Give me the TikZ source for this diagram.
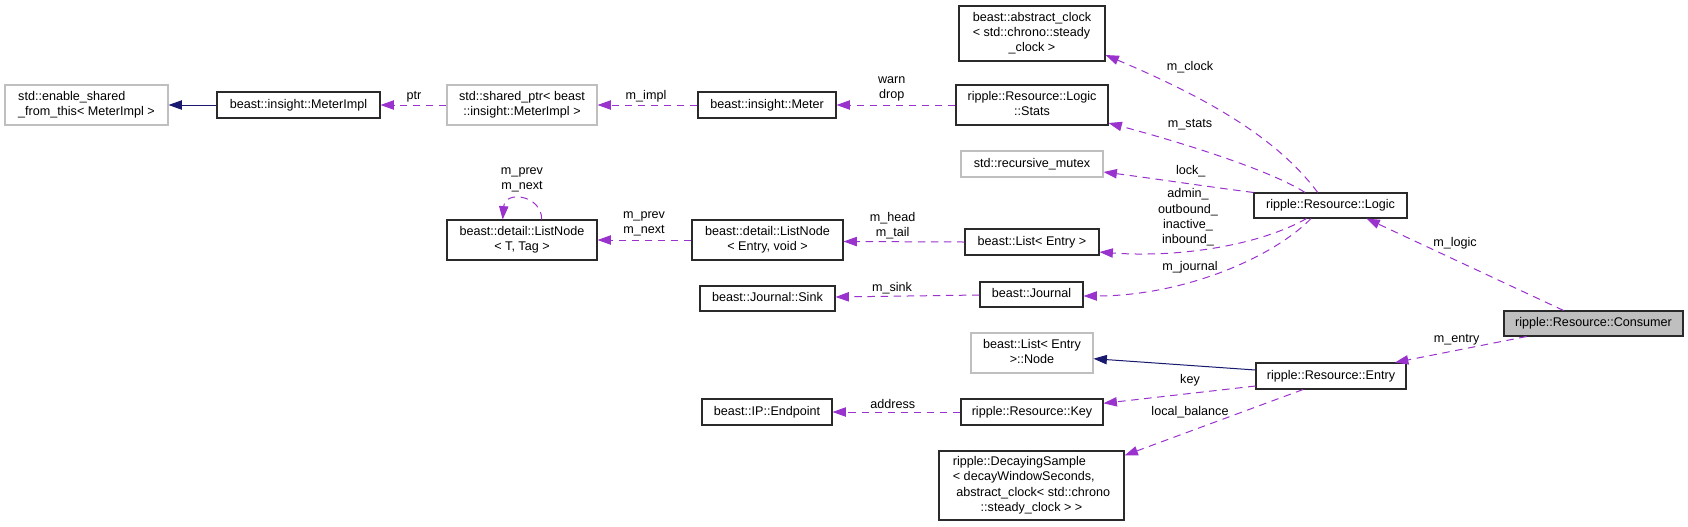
\documentclass[tikz,border=0pt]{standalone}
\usepackage{fontspec}
\setmainfont{Liberation Sans}
\usetikzlibrary{arrows.meta,calc}
\definecolor{edgepurple}{HTML}{9A32CD}
\definecolor{inhnavy}{HTML}{191970}
\definecolor{extgray}{HTML}{BFBFBF}
\definecolor{boxline}{HTML}{2A2A2A}
\newcommand\myone[1]{\begin{tabular}{@{}c@{}}#1\end{tabular}}
\newcommand\mytwo[2]{\begin{tabular}{@{}l@{}}#1\\\multicolumn{1}{@{}c@{}}{#2}\end{tabular}}
\newcommand\mythree[3]{\begin{tabular}{@{}l@{}}#1\\#2\\\multicolumn{1}{@{}c@{}}{#3}\end{tabular}}
\newcommand\myfour[4]{\begin{tabular}{@{}l@{}}#1\\#2\\#3\\\multicolumn{1}{@{}c@{}}{#4}\end{tabular}}
\tikzset{
  every node/.style={font=\fontsize{9.45}{11.5}\selectfont},
  sz/.style 2 args={minimum width={#1*0.75pt},minimum height={#2*0.75pt}},
  cls/.style={draw=boxline,line width=0.8pt,rectangle,inner sep=0pt},
  ext/.style={draw=extgray,line width=0.8pt,rectangle,inner sep=0pt},
  cur/.style={cls,fill=extgray},
  member/.style={draw=edgepurple,line width=0.75pt,dash pattern=on 5.6pt off 4.2pt,-{Triangle[length=10pt,width=7pt]}},
  inherit/.style={draw=inhnavy,line width=0.75pt,-{Triangle[length=10pt,width=7pt]}},
  lbl/.style={inner sep=0pt,align=center}
}
\begin{document}
\begin{tikzpicture}[x=0.75pt,y=-0.75pt]
\fill[white] (0,0) rectangle (1688,526);
\useasboundingbox (0,0) rectangle (1688,526);

% nodes
\node[ext,sz={163}{40}] (enable) at (86.5,105) {\mytwo{std::enable\_shared}{\_from\_this< MeterImpl >}};
\node[cls,sz={163}{26}] (meterimpl) at (298.5,105) {\myone{beast::insight::MeterImpl}};
\node[ext,sz={150}{40}] (sharedptr) at (522,105) {\mytwo{std::shared\_ptr< beast}{::insight::MeterImpl >}};
\node[cls,sz={138}{26}] (meter) at (767,105) {\myone{beast::insight::Meter}};
\node[cls,sz={146}{55}] (clock) at (1032,33.5) {\mythree{beast::abstract\_clock}{< std::chrono::steady}{\_clock >}};
\node[cls,sz={152}{40}] (stats) at (1032,105) {\mytwo{ripple::Resource::Logic}{::Stats}};
\node[ext,sz={142}{26}] (mutex) at (1032,164) {\myone{std::recursive\_mutex}};
\node[cls,sz={153}{25}] (logic) at (1330.5,205.5) {\myone{ripple::Resource::Logic}};
\node[cls,sz={150}{40}] (listnodeT) at (522,240) {\mytwo{beast::detail::ListNode}{< T, Tag >}};
\node[cls,sz={151}{40}] (listnodeE) at (767.5,240) {\mytwo{beast::detail::ListNode}{< Entry, void >}};
\node[cls,sz={134}{26}] (list) at (1032,242) {\myone{beast::List< Entry >}};
\node[cls,sz={135}{25}] (sink) at (767.5,298.5) {\myone{beast::Journal::Sink}};
\node[cls,sz={103}{25}] (journal) at (1031.5,294.5) {\myone{beast::Journal}};
\node[cur,sz={179}{25}] (consumer) at (1593.5,323.5) {\myone{ripple::Resource::Consumer}};
\node[ext,sz={122}{40}] (listnode) at (1032,353) {\mytwo{beast::List< Entry}{>::Node}};
\node[cls,sz={150}{26}] (entry) at (1331,376) {\myone{ripple::Resource::Entry}};
\node[cls,sz={130}{26}] (endpoint) at (767,412) {\myone{beast::IP::Endpoint}};
\node[cls,sz={142}{26}] (key) at (1032,412) {\myone{ripple::Resource::Key}};
\node[cls,sz={185}{69}] (decay) at (1031.5,485.5) {\myfour{ripple::DecayingSample}{< decayWindowSeconds,}{\ abstract\_clock< std::chrono}{::steady\_clock > >}};

% inheritance
\draw[inherit] (meterimpl.west) -- (enable.east);
\draw[inherit] ($(entry.west)+(0,-6)$) -- ($(listnode.east)+(0,5.7)$);

% members
\draw[member] (sharedptr.west) -- (meterimpl.east);
\draw[member] (meter.west) -- (sharedptr.east);
\draw[member] (stats.west) -- (meter.east);
\draw[member] ($(logic.north)+(-12.8,0)$) .. controls (1275,135) and (1200,95) .. ($(clock.east)+(0,21.5)$);
\draw[member] ($(logic.north)+(-25.5,0)$) .. controls (1270,170) and (1180,142) .. ($(stats.east)+(0,18)$);
\draw[member] (logic.north west) .. controls (1210,187) and (1150,178) .. ($(mutex.east)+(0,8)$);
\draw[member] ($(logic.south)+(-24,0)$) .. controls (1260,245) and (1180,258) .. ($(list.east)+(0,10)$);
\draw[member] ($(logic.south)+(-19.5,0)$) .. controls (1270,260) and (1180,296) .. ($(journal.east)+(0,1.5)$);
\draw[member] ($(consumer.north)+(-30,0)$) -- ($(logic.south)+(36,0)$);
\draw[member] ($(listnodeT.north)+(19.7,0)$) .. controls (541.7,195) and (505,190) .. ($(listnodeT.north)+(-19.3,0)$);
\draw[member] (listnodeE.west) -- (listnodeT.east);
\draw[member] (list.west) -- ($(listnodeE.east)+(0,1.5)$);
\draw[member] ($(journal.west)+(0,0.5)$) -- ($(sink.east)+(0,-1.5)$);
\draw[member] ($(consumer.south)+(-67,0)$) -- ($(entry.north)+(64,0)$);
\draw[member] ($(entry.west)+(0,10)$) -- ($(key.east)+(0,-8.7)$);
\draw[member] ($(entry.south)+(-28,0)$) -- ($(decay.north east)+(0,5)$);
\draw[member] (key.west) -- (endpoint.east);

% labels
\node[lbl] (l1) at (414,96.7) {ptr};
\node[lbl] (l2) at (646,96.7) {m\_impl};
\node[lbl] (l3) at (891.7,89) {warn\\drop};
\node[lbl] (l4) at (1190,66.7) {m\_clock};
\node[lbl] (l5) at (1190,125) {m\_stats};
\node[lbl] (l6) at (1190.7,170.7) {lock\_};
\node[lbl] (l7) at (1188,217.5) {admin\_\\outbound\_\\inactive\_\\inbound\_};
\node[lbl] (l8) at (1190,267.7) {m\_journal};
\node[lbl] (l9) at (522,180) {m\_prev\\m\_next};
\node[lbl] (l10) at (644,224) {m\_prev\\m\_next};
\node[lbl] (l11) at (892.7,225.8) {m\_head\\m\_tail};
\node[lbl] (l12) at (892,288.3) {m\_sink};
\node[lbl] (l13) at (1455,243.5) {m\_logic};
\node[lbl] (l14) at (1456.7,340) {m\_entry};
\node[lbl] (l15) at (1190,380.7) {key};
\node[lbl] (l16) at (892.7,404) {address};
\node[lbl] (l17) at (1190,411.7) {local\_balance};
\end{tikzpicture}
\end{document}
